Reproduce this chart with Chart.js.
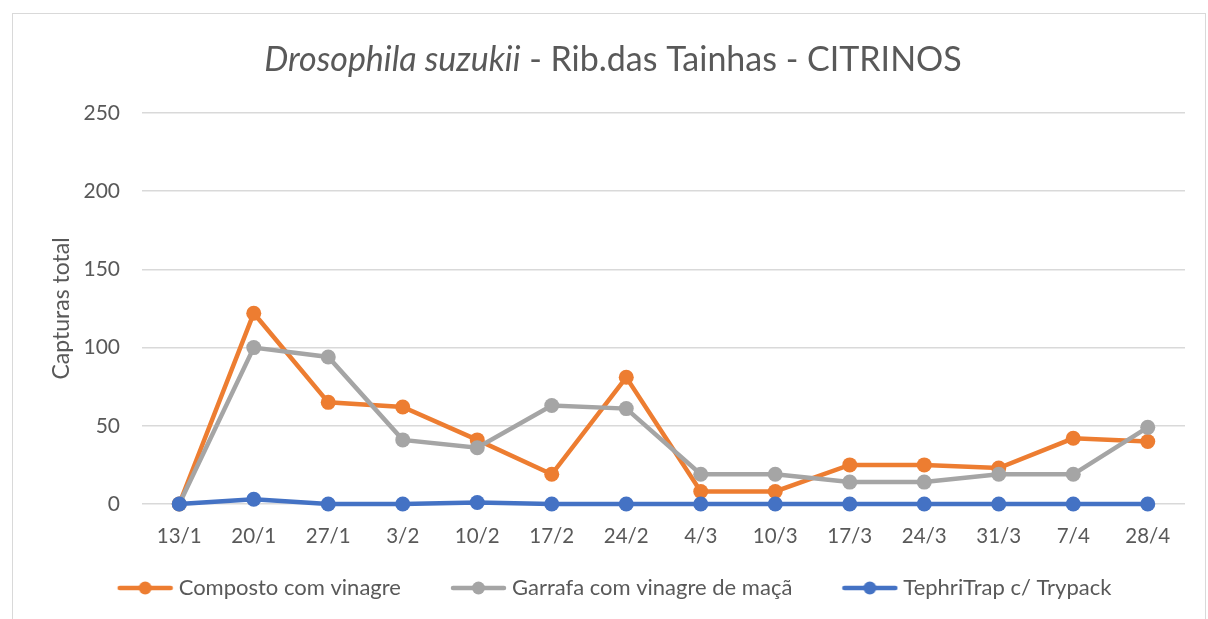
<!DOCTYPE html>
<html>
<head>
<meta charset="utf-8">
<script src="https://cdn.jsdelivr.net/npm/chart.js@4.4.1/dist/chart.umd.min.js"></script>
<style>
  body { margin: 0; background: #fff; }
  .frame { position: absolute; left: 12px; top: 13px; width: 1194px; height: 620px; border: 1px solid #d9d9d9; box-sizing: border-box; }
  canvas { display: block; }
</style>
</head>
<body>
<div class="frame">
  <canvas id="myLineChart" width="1192" height="606"></canvas>
</div>
<script>
// values
const weeks = ['13/1', '20/1', '27/1', '3/2', '10/2', '17/2', '24/2', '4/3', '10/3', '17/3', '24/3', '31/3', '7/4', '28/4'];
const composto = [0, 122, 65, 62, 41, 19, 81, 8, 8, 25, 25, 23, 42, 40];
const garrafa = [0, 100, 94, 41, 36, 63, 61, 19, 19, 14, 14, 19, 19, 49];
const tephri = [0, 3, 0, 0, 1, 0, 0, 0, 0, 0, 0, 0, 0, 0];
const seriesNames = ['Composto com vinagre', 'Garrafa com vinagre de maçã', 'TephriTrap c/ Trypack'];
const seriesColors = ['#ED7D31', '#A5A5A5', '#4472C4'];

const FONT = 'Lato, Carlito, Calibri, "Open Sans", sans-serif';
const GREY_TEXT = '#595959';

const LEGEND_FONT = 22;
const LEGEND_BOX = 80;

// line+dot picture for the legend, the marker sits at the right of the image
function legendMark(color) {
  const c = document.createElement('canvas');
  c.width = LEGEND_BOX + LEGEND_FONT - 10;
  c.height = 16;
  const g = c.getContext('2d');
  const x1 = c.width - 1, x0 = x1 - 55;
  g.strokeStyle = color;
  g.lineWidth = 4.5;
  g.lineCap = 'round';
  g.beginPath(); g.moveTo(x0 + 2, 8); g.lineTo(x1 - 2, 8); g.stroke();
  g.fillStyle = color;
  g.beginPath(); g.arc((x0 + x1) / 2, 8, 6.5, 0, Math.PI * 2); g.fill();
  return c;
}

// title has an italic part, so draw it by hand
const titlePlugin = {
  id: 'mixedTitle',
  afterDraw(chart) {
    const ctx = chart.ctx;
    const part1 = 'Drosophila suzukii';
    const part2 = ' - Rib.das Tainhas - CITRINOS';
    ctx.save();
    ctx.fillStyle = GREY_TEXT;
    ctx.textBaseline = 'middle';
    ctx.font = 'italic 34px ' + FONT;
    const w1 = ctx.measureText(part1).width;
    ctx.font = '34px ' + FONT;
    const w2 = ctx.measureText(part2).width;
    const x0 = chart.width / 2 + 4 - (w1 + w2) / 2;
    const y = 46;
    ctx.font = 'italic 34px ' + FONT;
    ctx.fillText(part1, x0, y);
    ctx.font = '34px ' + FONT;
    ctx.fillText(part2, x0 + w1, y);
    ctx.restore();
  }
};

const datasets = [composto, garrafa, tephri].map((vals, i) => ({
  label: seriesNames[i],
  data: vals,
  borderColor: seriesColors[i],
  backgroundColor: seriesColors[i],
  borderWidth: 4.5,
  pointRadius: 7.5,
  pointHoverRadius: 7.5,
  pointBorderWidth: 0,
  tension: 0,
  clip: false,
  order: 3 - i,
  legendMark: legendMark(seriesColors[i])
}));

const ctx = document.getElementById('myLineChart').getContext('2d');
const myChart = new Chart(ctx, {
  type: 'line',
  data: { labels: weeks, datasets: datasets },
  options: {
    responsive: false,
    animation: false,
    layout: { padding: { top: 99, left: 1, right: 20, bottom: 11 } },
    plugins: {
      title: { display: false },
      tooltip: { enabled: false },
      legend: {
        position: 'bottom',
        labels: {
          usePointStyle: true,
          pointStyleWidth: LEGEND_BOX,
          color: GREY_TEXT,
          font: { family: FONT, size: LEGEND_FONT },
          padding: 20,
          generateLabels(chart) {
            return chart.data.datasets.map((ds, i) => ({
              text: ds.label,
              fillStyle: ds.borderColor,
              strokeStyle: ds.borderColor,
              lineWidth: 0,
              pointStyle: ds.legendMark,
              datasetIndex: i,
              fontColor: GREY_TEXT
            }));
          }
        }
      }
    },
    scales: {
      x: {
        offset: true,
        grid: { display: false, drawTicks: false },
        border: { display: false },
        ticks: { color: GREY_TEXT, font: { family: FONT, size: 20.5 }, padding: 20, maxRotation: 0, autoSkip: false },
        afterFit(scale) { scale.height = 53; }
      },
      y: {
        min: 0,
        max: 250,
        ticks: { stepSize: 50, color: GREY_TEXT, font: { family: FONT, size: 21 }, padding: 22 },
        grid: { color: '#d9d9d9', lineWidth: 1.5, drawTicks: false },
        border: { display: false },
        title: { display: true, text: 'Capturas total', color: GREY_TEXT, font: { family: FONT, size: 23 }, padding: { top: 34, bottom: 0 } },
        afterFit(scale) { scale.width = 128; }
      }
    }
  },
  plugins: [titlePlugin]
});
</script>
</body>
</html>
